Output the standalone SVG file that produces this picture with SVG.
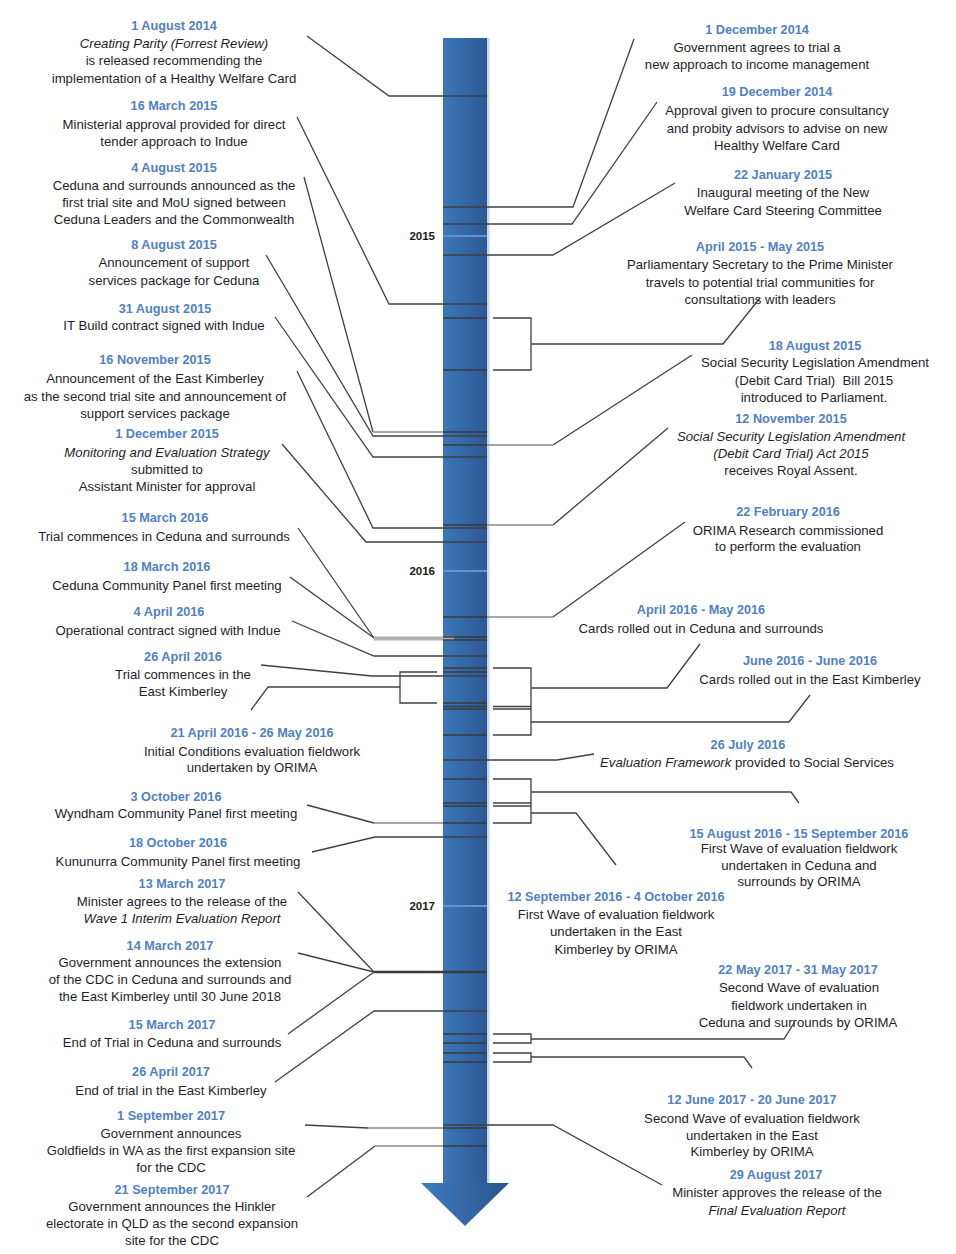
<svg xmlns="http://www.w3.org/2000/svg" width="956" height="1254" viewBox="0 0 956 1254">
<style>
text{font-family:"Liberation Sans",Arial,sans-serif;text-anchor:middle}
.d{font-size:12.7px;font-weight:bold;fill:#4f81c4}
.t{font-size:13.2px;fill:#1e1e2c}
.i{font-style:italic}
.y{font-size:11.5px;font-weight:bold;fill:#1a1a1a;text-anchor:end}
.c{fill:none;stroke:#404040;stroke-width:1.3}
.g{fill:none;stroke:#8a8a8a;stroke-width:1.3}
.k{stroke:#3a3a3a;stroke-width:1.5}
.yl{stroke:#5e93d8;stroke-width:2}
</style>
<defs>
<linearGradient id="bg" gradientUnits="userSpaceOnUse" x1="443" y1="0" x2="487" y2="0">
<stop offset="0" stop-color="#3c76ba"/><stop offset="1" stop-color="#2c5992"/>
</linearGradient>
<linearGradient id="hg" gradientUnits="userSpaceOnUse" x1="421" y1="0" x2="509" y2="0">
<stop offset="0" stop-color="#3f7bc0"/><stop offset="1" stop-color="#2a558c"/>
</linearGradient>
</defs>
<rect width="956" height="1254" fill="#ffffff"/>
<g id="timeline">
<rect x="443" y="38" width="44" height="1145" fill="url(#bg)"/>
<rect x="487" y="38" width="2.5" height="1145" fill="#c3d6ee"/>
<polygon points="421,1183 509,1183 465,1226" fill="url(#hg)"/>
<line class="yl" x1="443" y1="236" x2="487" y2="236"/>
<line class="yl" x1="443" y1="571" x2="487" y2="571"/>
<line class="yl" x1="443" y1="906" x2="487" y2="906"/>
<text class="y" x="435" y="240">2015</text>
<text class="y" x="435" y="575">2016</text>
<text class="y" x="435" y="910">2017</text>
</g>
<g id="connectors">
<polyline class="c" points="307,36 389,96 487,96"/>
<polyline class="c" points="297,117 389,304 487,304"/>
<polyline class="c" points="304,177 373,432"/>
<polyline class="g" points="373,432 443,432"/>
<line class="k" x1="443" y1="432" x2="487" y2="432"/>
<polyline class="c" points="266,255 373,436 487,436"/>
<polyline class="c" points="275,317 373,457 487,457"/>
<polyline class="c" points="297,371 373,528 487,528"/>
<polyline class="c" points="282,444 366,542 487,542"/>
<polyline class="c" points="298,528 374,638"/>
<polyline class="c" points="290,577 374,638"/>
<line x1="374" y1="638.5" x2="454" y2="638.5" stroke="#b0b0b0" stroke-width="4"/>
<line class="k" x1="443" y1="637" x2="487" y2="637"/>
<line class="k" x1="443" y1="640" x2="487" y2="640"/>
<polyline class="c" points="292,621 374,656 487,656"/>
<polyline class="c" points="261,665 372,676 487,676"/>
<polyline class="c" points="251,710 268,687 400,687"/>
<path class="c" d="M437,672 H400 V703 H437"/>
<line class="k" x1="443" y1="672" x2="487" y2="672"/>
<line class="k" x1="443" y1="703" x2="487" y2="703"/>
<polyline class="c" points="307,805 374,823"/>
<polyline class="g" points="374,823 443,823"/>
<line class="k" x1="443" y1="823" x2="487" y2="823"/>
<polyline class="c" points="312,852 375,837 487,837"/>
<polyline class="c" points="298,892 374,972"/>
<polyline class="c" points="298,953 374,972"/>
<polyline class="c" points="288,1034 374,972"/>
<line x1="374" y1="972" x2="487" y2="972" stroke="#3a3a3a" stroke-width="2.6"/>
<polyline class="c" points="275,1082 374,1011 487,1011"/>
<polyline class="c" points="305,1125 368,1128"/>
<polyline class="g" points="368,1128 443,1128"/>
<line class="k" x1="443" y1="1128" x2="487" y2="1128"/>
<polyline class="c" points="307,1197 375,1146"/>
<polyline class="g" points="375,1146 443,1146"/>
<line class="k" x1="443" y1="1146" x2="487" y2="1146"/>
<polyline class="c" points="634,39 573,207 443,207"/>
<polyline class="c" points="657,102 572,224 443,224"/>
<polyline class="c" points="675,183 553,255 443,255"/>
<polyline class="c" points="760,298 723,344 531,344"/>
<path class="c" d="M493,318 H531 V370 H493"/>
<line class="k" x1="443" y1="318" x2="487" y2="318"/>
<line class="k" x1="443" y1="370" x2="487" y2="370"/>
<polyline class="c" points="692,355 553,445"/>
<polyline class="g" points="553,445 487,445"/>
<line class="k" x1="443" y1="445" x2="487" y2="445"/>
<polyline class="c" points="668,428 553,525"/>
<polyline class="g" points="553,525 487,525"/>
<line class="k" x1="443" y1="525" x2="487" y2="525"/>
<polyline class="c" points="685,522 553,617"/>
<polyline class="g" points="553,617 487,617"/>
<line class="k" x1="443" y1="617" x2="487" y2="617"/>
<polyline class="c" points="700,644 667,688 531,688"/>
<path class="c" d="M493,668 H531 V735 H493"/>
<line class="c" x1="493" y1="709" x2="531" y2="709" stroke-width="2"/>
<line class="c" x1="493" y1="706.5" x2="531" y2="706.5"/>
<line class="k" x1="443" y1="668" x2="487" y2="668"/>
<line class="k" x1="443" y1="706.5" x2="487" y2="706.5"/>
<line class="k" x1="443" y1="709" x2="487" y2="709"/>
<line class="k" x1="443" y1="735" x2="487" y2="735"/>
<polyline class="c" points="810,695 789,722 531,722"/>
<polyline class="c" points="594,754 557,760 443,760"/>
<path class="c" d="M493,779 H531 V823 H493"/>
<line class="c" x1="493" y1="803" x2="531" y2="803"/>
<line class="c" x1="493" y1="806" x2="531" y2="806"/>
<line class="k" x1="443" y1="779" x2="487" y2="779"/>
<line class="k" x1="443" y1="803" x2="487" y2="803"/>
<line class="k" x1="443" y1="806" x2="487" y2="806"/>
<polyline class="c" points="799,803 791,792 531,792"/>
<polyline class="c" points="616,865 576,813 531,813"/>
<path class="c" d="M493,1034 H531 V1043 H493"/>
<line class="k" x1="443" y1="1034" x2="487" y2="1034"/>
<line class="k" x1="443" y1="1043" x2="487" y2="1043"/>
<polyline class="c" points="794,1023 784,1039 531,1039"/>
<path class="c" d="M493,1053 H531 V1062 H493"/>
<line class="k" x1="443" y1="1053" x2="487" y2="1053"/>
<line class="k" x1="443" y1="1062" x2="487" y2="1062"/>
<polyline class="c" points="752,1068 744,1057 531,1057"/>
<polyline class="c" points="662,1185 553,1125 443,1125"/>
</g>
<g id="e-2014-08-01"><text class="d" x="174" y="30">1 August 2014</text><text class="t i" x="174" y="48">Creating Parity (Forrest Review)</text><text class="t" x="174" y="65">is released recommending the</text><text class="t" x="174" y="83">implementation of a Healthy Welfare Card</text></g>
<g id="e-2015-03-16"><text class="d" x="174" y="110">16 March 2015</text><text class="t" x="174" y="129">Ministerial approval provided for direct</text><text class="t" x="174" y="146">tender approach to Indue</text></g>
<g id="e-2015-08-04"><text class="d" x="174" y="172">4 August 2015</text><text class="t" x="174" y="190">Ceduna and surrounds announced as the</text><text class="t" x="174" y="207">first trial site and MoU signed between</text><text class="t" x="174" y="224">Ceduna Leaders and the Commonwealth</text></g>
<g id="e-2015-08-08"><text class="d" x="174" y="249">8 August 2015</text><text class="t" x="174" y="267">Announcement of support</text><text class="t" x="174" y="285">services package for Ceduna</text></g>
<g id="e-2015-08-31"><text class="d" x="165" y="313">31 August 2015</text><text class="t" x="164" y="330">IT Build contract signed with Indue</text></g>
<g id="e-2015-11-16"><text class="d" x="155" y="364">16 November 2015</text><text class="t" x="155" y="383">Announcement of the East Kimberley</text><text class="t" x="155" y="401">as the second trial site and announcement of</text><text class="t" x="155" y="418">support services package</text></g>
<g id="e-2015-12-01"><text class="d" x="167" y="438">1 December 2015</text><text class="t i" x="167" y="457">Monitoring and Evaluation Strategy</text><text class="t" x="167" y="474">submitted to</text><text class="t" x="167" y="491">Assistant Minister for approval</text></g>
<g id="e-2016-03-15"><text class="d" x="165" y="522">15 March 2016</text><text class="t" x="164" y="541">Trial commences in Ceduna and surrounds</text></g>
<g id="e-2016-03-18"><text class="d" x="167" y="571">18 March 2016</text><text class="t" x="167" y="590">Ceduna Community Panel first meeting</text></g>
<g id="e-2016-04-04"><text class="d" x="169" y="616">4 April 2016</text><text class="t" x="168" y="635">Operational contract signed with Indue</text></g>
<g id="e-2016-04-26"><text class="d" x="183" y="661">26 April 2016</text><text class="t" x="183" y="679">Trial commences in the</text><text class="t" x="183" y="696">East Kimberley</text></g>
<g id="e-2016-04-21"><text class="d" x="252" y="737">21 April 2016 - 26 May 2016</text><text class="t" x="252" y="756">Initial Conditions evaluation fieldwork</text><text class="t" x="252" y="772">undertaken by ORIMA</text></g>
<g id="e-2016-10-03"><text class="d" x="176" y="801">3 October 2016</text><text class="t" x="176" y="818">Wyndham Community Panel first meeting</text></g>
<g id="e-2016-10-18"><text class="d" x="178" y="847">18 October 2016</text><text class="t" x="178" y="866">Kununurra Community Panel first meeting</text></g>
<g id="e-2017-03-13"><text class="d" x="182" y="888">13 March 2017</text><text class="t" x="182" y="906">Minister agrees to the release of the</text><text class="t i" x="182" y="923">Wave 1 Interim Evaluation Report</text></g>
<g id="e-2017-03-14"><text class="d" x="170" y="950">14 March 2017</text><text class="t" x="170" y="967">Government announces the extension</text><text class="t" x="170" y="984">of the CDC in Ceduna and surrounds and</text><text class="t" x="170" y="1001">the East Kimberley until 30 June 2018</text></g>
<g id="e-2017-03-15"><text class="d" x="172" y="1029">15 March 2017</text><text class="t" x="172" y="1047">End of Trial in Ceduna and surrounds</text></g>
<g id="e-2017-04-26"><text class="d" x="171" y="1076">26 April 2017</text><text class="t" x="171" y="1095">End of trial in the East Kimberley</text></g>
<g id="e-2017-09-01"><text class="d" x="171" y="1120">1 September 2017</text><text class="t" x="171" y="1138">Government announces</text><text class="t" x="171" y="1155">Goldfields in WA as the first expansion site</text><text class="t" x="171" y="1172">for the CDC</text></g>
<g id="e-2017-09-21"><text class="d" x="172" y="1194">21 September 2017</text><text class="t" x="172" y="1211">Government announces the Hinkler</text><text class="t" x="172" y="1228">electorate in QLD as the second expansion</text><text class="t" x="172" y="1245">site for the CDC</text></g>
<g id="e-2014-12-01"><text class="d" x="757" y="34">1 December 2014</text><text class="t" x="757" y="52">Government agrees to trial a</text><text class="t" x="757" y="69">new approach to income management</text></g>
<g id="e-2014-12-19"><text class="d" x="777" y="96">19 December 2014</text><text class="t" x="777" y="115">Approval given to procure consultancy</text><text class="t" x="777" y="133">and probity advisors to advise on new</text><text class="t" x="777" y="150">Healthy Welfare Card</text></g>
<g id="e-2015-01-22"><text class="d" x="783" y="179">22 January 2015</text><text class="t" x="783" y="197">Inaugural meeting of the New</text><text class="t" x="783" y="215">Welfare Card Steering Committee</text></g>
<g id="e-2015-04"><text class="d" x="760" y="251">April 2015 - May 2015</text><text class="t" x="760" y="269">Parliamentary Secretary to the Prime Minister</text><text class="t" x="760" y="287">travels to potential trial communities for</text><text class="t" x="760" y="304">consultations with leaders</text></g>
<g id="e-2015-08-18"><text class="d" x="815" y="350">18 August 2015</text><text class="t" x="815" y="367">Social Security Legislation Amendment</text><text class="t" x="814" y="385" xml:space="preserve">(Debit Card Trial)  Bill 2015</text><text class="t" x="814" y="402">introduced to Parliament.</text></g>
<g id="e-2015-11-12"><text class="d" x="791" y="423">12 November 2015</text><text class="t i" x="791" y="441">Social Security Legislation Amendment</text><text class="t i" x="791" y="458">(Debit Card Trial) Act 2015</text><text class="t" x="791" y="475">receives Royal Assent.</text></g>
<g id="e-2016-02-22"><text class="d" x="788" y="516">22 February 2016</text><text class="t" x="788" y="535">ORIMA Research commissioned</text><text class="t" x="788" y="551">to perform the evaluation</text></g>
<g id="e-2016-04"><text class="d" x="701" y="614">April 2016 - May 2016</text><text class="t" x="701" y="633">Cards rolled out in Ceduna and surrounds</text></g>
<g id="e-2016-06"><text class="d" x="810" y="665">June 2016 - June 2016</text><text class="t" x="810" y="684">Cards rolled out in the East Kimberley</text></g>
<g id="e-2016-07-26"><text class="d" x="748" y="749">26 July 2016</text><text class="t" x="747" y="767"><tspan class="i">Evaluation Framework</tspan> provided to Social Services</text></g>
<g id="e-2016-08-15"><text class="d" x="799" y="838">15 August 2016 - 15 September 2016</text><text class="t" x="799" y="853">First Wave of evaluation fieldwork</text><text class="t" x="799" y="870">undertaken in Ceduna and</text><text class="t" x="799" y="886">surrounds by ORIMA</text></g>
<g id="e-2016-09-12"><text class="d" x="616" y="901">12 September 2016 - 4 October 2016</text><text class="t" x="616" y="919">First Wave of evaluation fieldwork</text><text class="t" x="616" y="936">undertaken in the East</text><text class="t" x="616" y="954">Kimberley by ORIMA</text></g>
<g id="e-2017-05-22"><text class="d" x="798" y="974">22 May 2017 - 31 May 2017</text><text class="t" x="799" y="992">Second Wave of evaluation</text><text class="t" x="799" y="1010">fieldwork undertaken in</text><text class="t" x="798" y="1027">Ceduna and surrounds by ORIMA</text></g>
<g id="e-2017-06-12"><text class="d" x="752" y="1104">12 June 2017 - 20 June 2017</text><text class="t" x="752" y="1123">Second Wave of evaluation fieldwork</text><text class="t" x="752" y="1140">undertaken in the East</text><text class="t" x="752" y="1156">Kimberley by ORIMA</text></g>
<g id="e-2017-08-29"><text class="d" x="776" y="1179">29 August 2017</text><text class="t" x="777" y="1197">Minister approves the release of the</text><text class="t i" x="777" y="1215">Final Evaluation Report</text></g>
</svg>
